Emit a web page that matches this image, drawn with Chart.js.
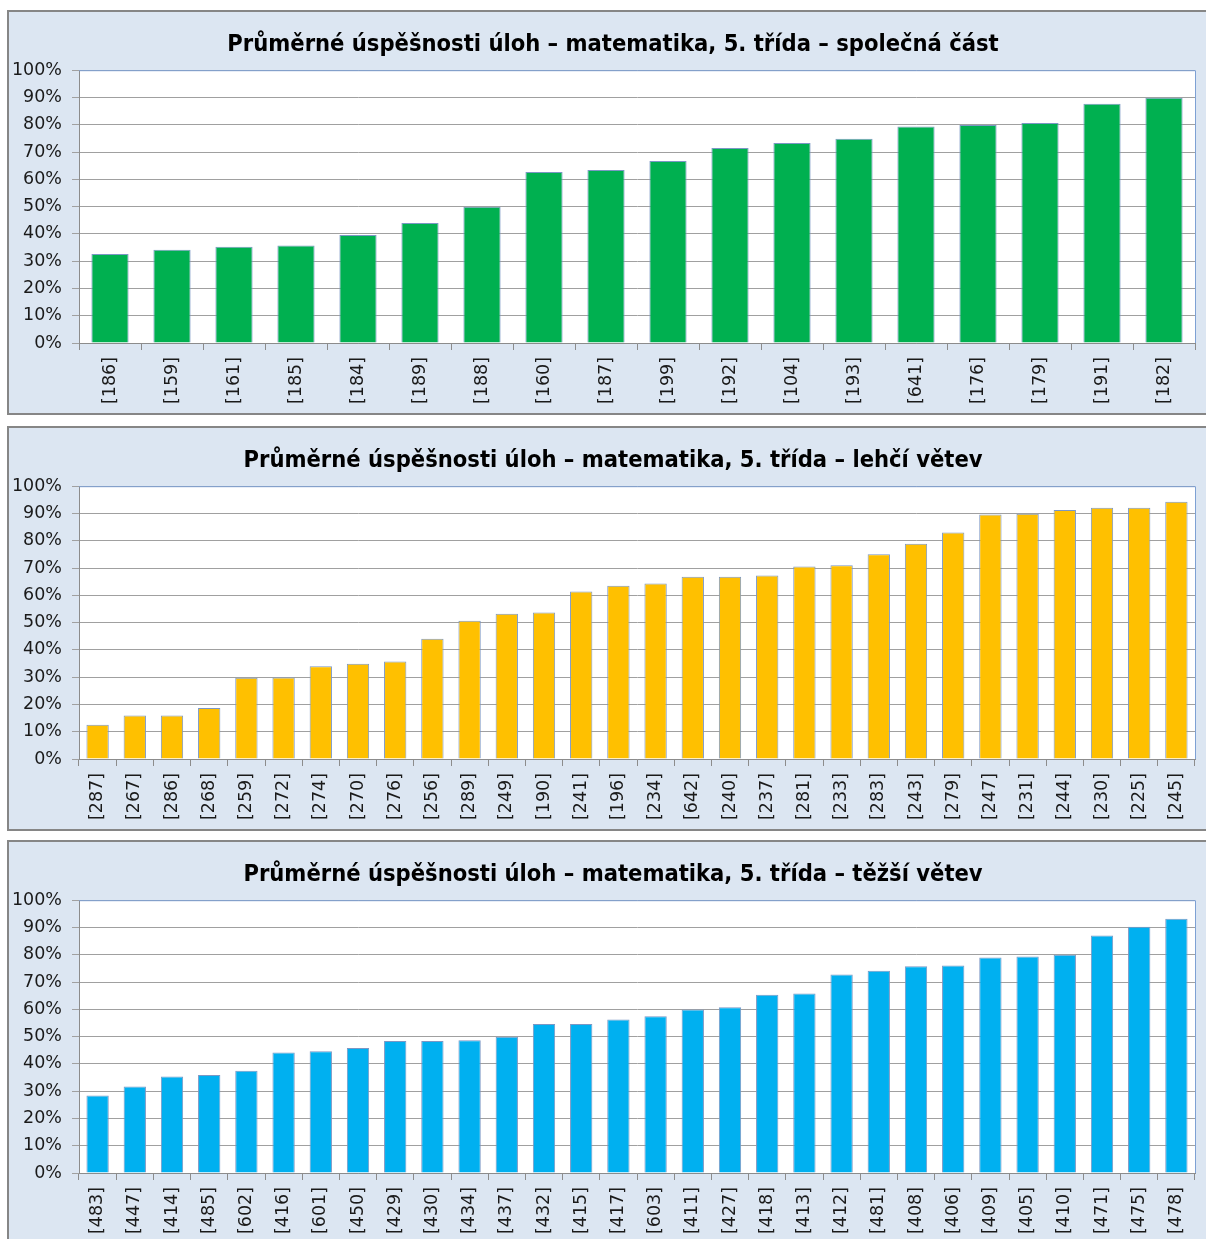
<!DOCTYPE html>
<html lang="cs">
<head>
    <meta charset="UTF-8">
    <title>Průměrné úspěšnosti úloh – matematika, 5. třída</title>
    <script src="https://cdn.jsdelivr.net/npm/chart.js"></script>
    <style>
        html, body { margin: 0; padding: 0; background: #ffffff; width: 1206px; height: 1239px; overflow: hidden; }
        .panel {
            position: absolute; left: 7px; width: 1212px; height: 405px;
            box-sizing: border-box; border: 2px solid #868686; background: #dce6f2;
        }
        .panel canvas { display: block; }
    </style>
</head>
<body>
    <div class="panel" style="top:10px"><canvas id="chartSpolecna" width="1208" height="401"></canvas></div>
    <div class="panel" style="top:426px"><canvas id="chartLehci" width="1208" height="401"></canvas></div>
    <div class="panel" style="top:840px"><canvas id="chartTezsi" width="1208" height="401"></canvas></div>

    <script>
        // společná část
        const spolecnaLabels = ['[186]', '[159]', '[161]', '[185]', '[184]', '[189]', '[188]', '[160]', '[187]',
            '[199]', '[192]', '[104]', '[193]', '[641]', '[176]', '[179]', '[191]', '[182]'];
        const spolecnaValues = [32.6, 34.2, 35.3, 35.7, 39.6, 44.0, 49.9, 62.7, 63.4,
            66.7, 71.5, 73.3, 74.9, 79.4, 79.9, 80.6, 87.7, 89.9];

        // lehčí větev
        const lehciLabels = ['[287]', '[267]', '[286]', '[268]', '[259]', '[272]', '[274]', '[270]', '[276]', '[256]',
            '[289]', '[249]', '[190]', '[241]', '[196]', '[234]', '[642]', '[240]', '[237]', '[281]',
            '[233]', '[283]', '[243]', '[279]', '[247]', '[231]', '[244]', '[230]', '[225]', '[245]'];
        const lehciValues = [12.6, 15.9, 15.9, 18.7, 29.8, 29.9, 34.0, 34.9, 35.7, 44.1,
            50.7, 53.2, 53.7, 61.4, 63.5, 64.3, 66.8, 66.8, 67.3, 70.6,
            71.0, 75.1, 78.9, 83.0, 89.6, 89.9, 91.3, 92.1, 92.1, 94.3];

        // těžší větev
        const tezsiLabels = ['[483]', '[447]', '[414]', '[485]', '[602]', '[416]', '[601]', '[450]', '[429]', '[430]',
            '[434]', '[437]', '[432]', '[415]', '[417]', '[603]', '[411]', '[427]', '[418]', '[413]',
            '[412]', '[481]', '[408]', '[406]', '[409]', '[405]', '[410]', '[471]', '[475]', '[478]'];
        const tezsiValues = [28.4, 31.7, 35.4, 35.9, 37.5, 44.2, 44.6, 45.8, 48.4, 48.4,
            48.7, 49.9, 54.6, 54.6, 56.3, 57.5, 59.9, 60.8, 65.3, 65.8,
            72.8, 74.1, 75.8, 76.1, 79.0, 79.4, 80.0, 87.1, 90.3, 93.2];

        const yTicks = [0, 10, 20, 30, 40, 50, 60, 70, 80, 90, 100];

        // bílá plocha grafu + modrý horní a pravý okraj
        const plotFrame = {
            id: 'plotFrame',
            beforeDraw(chart) {
                const a = chart.chartArea, ctx = chart.ctx;
                ctx.save();
                ctx.fillStyle = '#ffffff';
                ctx.fillRect(a.left, a.top, a.right - a.left, a.bottom - a.top);
                ctx.restore();
            },
            afterDatasetsDraw(chart) {
                const a = chart.chartArea, ctx = chart.ctx;
                ctx.save();
                ctx.strokeStyle = '#7ea1d4';
                ctx.lineWidth = 1;
                ctx.beginPath();
                ctx.moveTo(a.left, a.top + 0.5);
                ctx.lineTo(a.right + 0.5, a.top + 0.5);
                ctx.lineTo(a.right + 0.5, a.bottom);
                ctx.stroke();
                ctx.restore();
            }
        };

        function renderChart(chartId, title, labels, values, color) {
            let ctx = document.getElementById(chartId).getContext('2d');
            return new Chart(ctx, {
                type: 'bar',
                data: {
                    labels: labels,
                    datasets: [{
                        data: values,
                        backgroundColor: color,
                        borderColor: '#7b97c4',
                        borderWidth: 1,
                        categoryPercentage: 1.0,
                        barPercentage: 0.6
                    }]
                },
                plugins: [plotFrame],
                options: {
                    responsive: false,
                    animation: false,
                    layout: { padding: 0 },
                    plugins: {
                        legend: { display: false },
                        tooltip: { enabled: false },
                        title: {
                            display: true,
                            text: title,
                            color: '#000000',
                            font: { family: '"DejaVu Sans Condensed", "DejaVu Sans", sans-serif', size: 23.5, weight: 'bold', lineHeight: 1.2 },
                            padding: { top: 19, bottom: 11 }
                        }
                    },
                    scales: {
                        x: {
                            afterFit: s => { s.height = 70; },
                            grid: { offset: true, drawOnChartArea: false, drawTicks: true, tickLength: 7, color: '#8c8c8c' },
                            border: { color: '#8c8c8c', width: 1 },
                            ticks: {
                                autoSkip: false, minRotation: 90, maxRotation: 90, padding: 7,
                                color: '#1a1a1a',
                                font: { family: '"DejaVu Sans", sans-serif', size: 17.5 }
                            }
                        },
                        y: {
                            min: 0, max: 100,
                            afterFit: s => { s.width = 70; },
                            afterBuildTicks: s => { s.ticks = yTicks.map(v => ({ value: v })); },
                            grid: { color: '#a0a0a0', lineWidth: 1, tickLength: 7, drawTicks: true },
                            border: { color: '#8c8c8c', width: 1 },
                            ticks: {
                                padding: 10,
                                color: '#1a1a1a',
                                font: { family: '"DejaVu Sans", sans-serif', size: 17.5 },
                                callback: v => v + '%'
                            }
                        },
                        // prázdný pravý okraj, aby byl nadpis vystředěn na celou šířku
                        yRight: {
                            position: 'right', min: 0, max: 100,
                            afterFit: s => { s.width = 22; },
                            grid: { display: false },
                            border: { display: false },
                            ticks: { display: false }
                        }
                    }
                }
            });
        }

        renderChart('chartSpolecna', 'Průměrné úspěšnosti úloh – matematika, 5. třída – společná část', spolecnaLabels, spolecnaValues, '#00b050');
        renderChart('chartLehci', 'Průměrné úspěšnosti úloh – matematika, 5. třída – lehčí větev', lehciLabels, lehciValues, '#ffc000');
        renderChart('chartTezsi', 'Průměrné úspěšnosti úloh – matematika, 5. třída – těžší větev', tezsiLabels, tezsiValues, '#00b0f0');
    </script>
</body>
</html>
